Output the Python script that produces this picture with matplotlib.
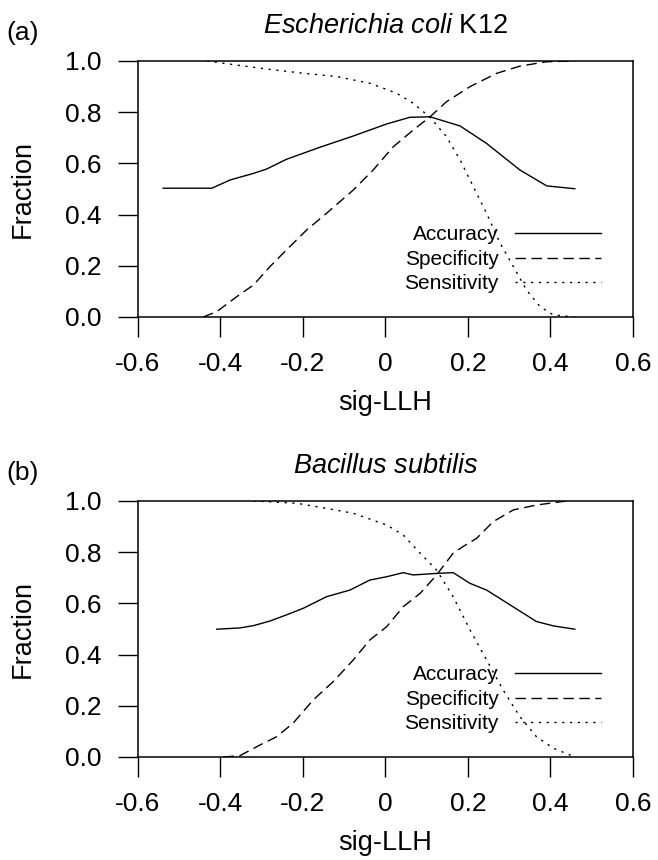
import matplotlib
matplotlib.use("Agg")
import matplotlib.pyplot as plt

plt.rcParams['font.family'] = ['Liberation Sans', 'DejaVu Sans']
plt.rcParams['mathtext.fontset'] = 'custom'
plt.rcParams['mathtext.it'] = 'Liberation Sans:italic'
plt.rcParams['mathtext.rm'] = 'Liberation Sans'

# (a) Escherichia coli K12
ec_acc_x = [-0.539, -0.421, -0.377, -0.320, -0.288, -0.240, -0.159, -0.078, 0.003, 0.059, 0.108,
            0.181, 0.245, 0.326, 0.391, 0.459]
ec_acc_y = [0.503, 0.503, 0.535, 0.561, 0.578, 0.616, 0.663, 0.707, 0.754, 0.780, 0.782,
            0.746, 0.678, 0.574, 0.512, 0.501]
ec_spe_x = [-0.442, -0.409, -0.361, -0.320, -0.280, -0.240, -0.191, -0.143, -0.078, -0.030, 0.019,
            0.067, 0.108, 0.148, 0.205, 0.270, 0.326, 0.391, 0.459]
ec_spe_y = [0.0, 0.021, 0.079, 0.125, 0.197, 0.262, 0.340, 0.405, 0.496, 0.574, 0.665,
            0.730, 0.782, 0.841, 0.900, 0.952, 0.980, 0.997, 1.0]
ec_sen_x = [-0.433, -0.361, -0.280, -0.199, -0.118, -0.038, 0.027, 0.067, 0.108, 0.148, 0.181,
            0.213, 0.245, 0.278, 0.310, 0.342, 0.375, 0.407, 0.459]
ec_sen_y = [1.0, 0.984, 0.967, 0.952, 0.939, 0.913, 0.874, 0.835, 0.780, 0.704, 0.613,
            0.509, 0.405, 0.288, 0.197, 0.105, 0.040, 0.008, 0.0]

# (b) Bacillus subtilis
bs_acc_x = [-0.409, -0.353, -0.320, -0.280, -0.240, -0.199, -0.143, -0.086, -0.038, 0.003, 0.043,
            0.067, 0.124, 0.164, 0.205, 0.245, 0.302, 0.366, 0.407, 0.459]
bs_acc_y = [0.499, 0.504, 0.513, 0.531, 0.555, 0.581, 0.626, 0.652, 0.691, 0.704, 0.720,
            0.711, 0.717, 0.720, 0.678, 0.652, 0.594, 0.529, 0.512, 0.499]
bs_spe_x = [-0.393, -0.353, -0.304, -0.264, -0.224, -0.175, -0.127, -0.078, -0.038, 0.003, 0.043,
            0.084, 0.124, 0.164, 0.188, 0.221, 0.261, 0.310, 0.366, 0.407, 0.439]
bs_spe_y = [0.0, 0.005, 0.047, 0.079, 0.132, 0.223, 0.294, 0.379, 0.457, 0.509, 0.587,
            0.639, 0.711, 0.796, 0.822, 0.854, 0.919, 0.965, 0.984, 0.993, 1.0]
bs_sen_x = [-0.320, -0.215, -0.143, -0.078, 0.003, 0.043, 0.084, 0.124, 0.164, 0.205, 0.245,
            0.285, 0.326, 0.366, 0.407, 0.459]
bs_sen_y = [1.0, 0.991, 0.971, 0.952, 0.906, 0.867, 0.796, 0.730, 0.626, 0.496, 0.379,
            0.262, 0.157, 0.079, 0.034, 0.0]

panels = [
    ("(a)", r"$\it{Escherichia\ coli}$ K12", ec_acc_x, ec_acc_y, ec_spe_x, ec_spe_y, ec_sen_x, ec_sen_y),
    ("(b)", r"$\it{Bacillus\ subtilis}$", bs_acc_x, bs_acc_y, bs_spe_x, bs_spe_y, bs_sen_x, bs_sen_y),
]

fig = plt.figure(figsize=(6.58, 8.6), dpi=100)
axes_bottoms = [0.6314, 0.1198]

for (tag, title, ax_, ay_, sx_, sy_, nx_, ny_), b in zip(panels, axes_bottoms):
    ax = fig.add_axes([0.2097, b, 0.7523, 0.2977])
    ax.plot(ax_, ay_, color='black', lw=1.0, label='Accuracy')
    ax.plot(sx_, sy_, color='black', lw=1.0, ls=(0, (7.5, 4)), label='Specificity')
    ax.plot(nx_, ny_, color='black', lw=1.0, ls=(0, (1.6, 4)), label='Sensitivity')
    ax.set_xlim(-0.6, 0.6)
    ax.set_ylim(0, 1)
    ax.set_xticks([-0.6, -0.4, -0.2, 0, 0.2, 0.4, 0.6])
    ax.set_xticklabels(['-0.6', '-0.4', '-0.2', '0', '0.2', '0.4', '0.6'])
    ax.set_yticks([0, 0.2, 0.4, 0.6, 0.8, 1.0])
    ax.set_yticklabels(['0.0', '0.2', '0.4', '0.6', '0.8', '1.0'])
    ax.tick_params(direction='out', length=14.5, width=1.0, labelsize=19)
    ax.tick_params(axis='x', pad=11)
    ax.tick_params(axis='y', pad=12)
    for sp in ax.spines.values():
        sp.set_linewidth(1.1)
    ax.set_xlabel('sig-LLH', fontsize=19.5, labelpad=10)
    ax.set_ylabel('Fraction', fontsize=19.5, labelpad=21)
    ax.set_title(title, fontsize=19.5, pad=20)
    ax.text(-0.265, 1.109, tag, transform=ax.transAxes, fontsize=19, va='center', ha='left')
    ax.legend(loc='lower right', bbox_to_anchor=(0.935, 0.092), frameon=False, fontsize=15,
              markerfirst=False, handlelength=4.1, handletextpad=0.8, labelspacing=0.27,
              borderpad=0, borderaxespad=0)

fig.savefig('out.png', dpi=100)
